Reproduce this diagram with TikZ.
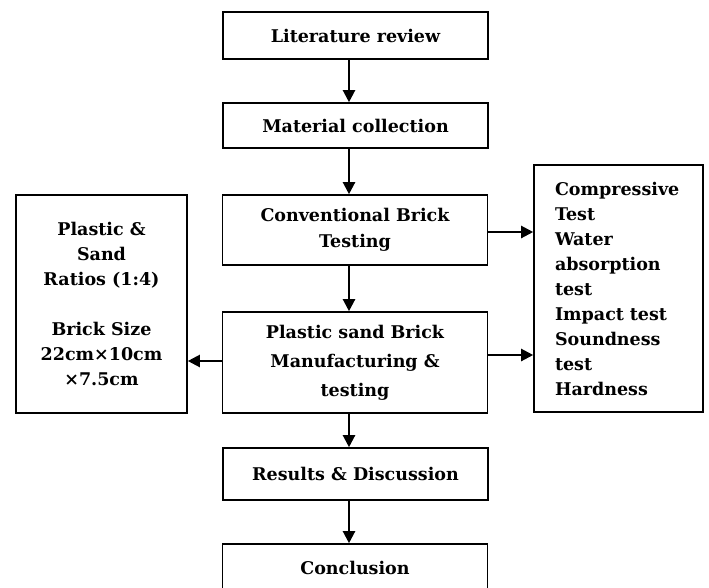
\documentclass[tikz,border=0pt]{standalone}
\usepackage{fontspec}
\setmainfont{DejaVu Serif}
\usetikzlibrary{arrows.meta}
\begin{document}
\begin{tikzpicture}[x=1pt,y=-1pt,
  txt/.style={font=\bfseries\fontsize{17.5}{25}\selectfont},
  box/.style={txt,draw,line width=1.6pt,minimum width=265pt,align=center,inner sep=0pt},
  sidebox/.style={txt,draw,line width=1.6pt,minimum width=169pt,inner sep=0pt},
  arr/.style={line width=2.2pt,-{Triangle[length=12pt,width=12pt]}}]
\useasboundingbox (0,0) rectangle (709,587);
\node[box,minimum height=47pt] (b1) at (355.5,35.5) {Literature review};
\node[box,minimum height=45pt] (b2) at (355.5,125.5) {Material collection};
\node[box,minimum height=70pt,font=\bfseries\fontsize{17.5}{26}\selectfont] (b3) at (355,230) {Conventional Brick\\Testing\rule[-4pt]{0pt}{1pt}};
\node[box,minimum height=101pt,font=\bfseries\fontsize{17.5}{29}\selectfont] (b4) at (355,362.5) {Plastic sand Brick\\Manufacturing \&\\testing};
\node[box,minimum height=52pt] (b5) at (355.5,474) {Results \& Discussion};
\node[box,minimum height=48pt] (b6) at (355,568) {Conclusion};
\node[sidebox,minimum width=171pt,minimum height=218pt,align=center] (l) at (101.5,304) {Plastic \&\\Sand\\Ratios (1:4)\\[25pt]Brick Size\\22cm×10cm\\×7.5cm};
\node[sidebox,minimum height=247pt,text width=127pt,inner xsep=21pt,align=left] (r) at (618.5,288.5) {Compressive\\Test\\Water\\absorption\\test\\Impact test\\Soundness\\test\\Hardness};
\coordinate (ax) at (349,0);
\draw[arr] (b1.south -| ax) -- (b2.north -| ax);
\draw[arr] (b2.south -| ax) -- (b3.north -| ax);
\draw[arr] (b3.south -| ax) -- (b4.north -| ax);
\draw[arr] (b4.south -| ax) -- (b5.north -| ax);
\draw[arr] (b5.south -| ax) -- (b6.north -| ax);
\coordinate (y1) at (0,232);
\coordinate (y2) at (0,355);
\coordinate (y3) at (0,361);
\draw[arr] (b3.east |- y1) -- (r.west |- y1);
\draw[arr] (b4.east |- y2) -- (r.west |- y2);
\draw[arr] (b4.west |- y3) -- (l.east |- y3);
\end{tikzpicture}
\end{document}
